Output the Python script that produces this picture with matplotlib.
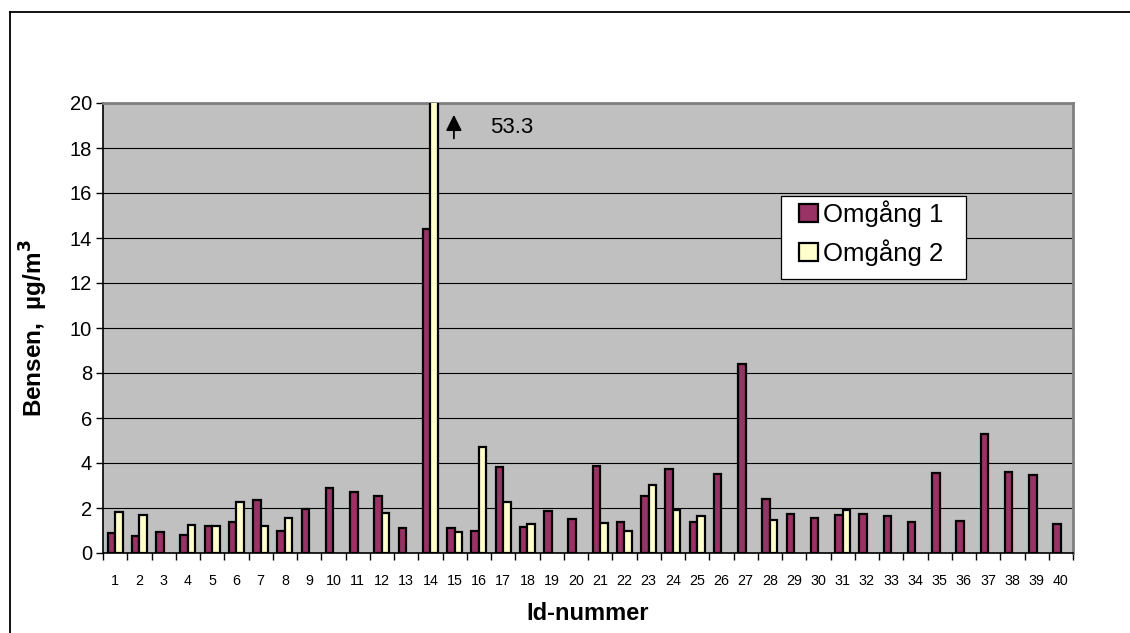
import numpy as np
import matplotlib
matplotlib.use("Agg")
import matplotlib.pyplot as plt
from matplotlib.lines import Line2D
from matplotlib.patches import Rectangle

plt.rcParams['font.family'] = ['Liberation Sans', 'DejaVu Sans']

# Benzene per site, two sampling rounds (µg/m3); NaN = no sample
ids = list(range(1, 41))
omgang1 = [0.89, 0.74, 0.93, 0.81, 1.19, 1.39, 2.37, 0.96, 1.97, 2.89,
           2.73, 2.52, 1.11, 14.4, 1.11, 0.96, 3.82, 1.14, 1.85, 1.50,
           3.88, 1.39, 2.52, 3.75, 1.38, 3.51, 8.4, 2.41, 1.73, 1.57,
           1.70, 1.75, 1.64, 1.38, 3.56, 1.42, 5.29, 3.59, 3.47, 1.30]
nan = np.nan
omgang2 = [1.82, 1.67, nan, 1.23, 1.20, 2.28, 1.20, 1.56, nan, nan,
           nan, 1.76, nan, 53.3, 0.93, 4.71, 2.27, 1.30, nan, nan,
           1.33, 0.99, 3.02, 1.91, 1.66, nan, nan, 1.45, nan, nan,
           1.90, nan, nan, nan, nan, nan, nan, nan, nan, nan]
series_names = ['Omgång 1', 'Omgång 2']
y_ticks = list(range(0, 21, 2))

W, H = 1130, 633
fig = plt.figure(figsize=(W / 100, H / 100), dpi=100)
fig.patch.set_facecolor('white')

# outer chart frame (top and left edges visible)
fig.add_artist(Line2D([10 / W, 10 / W], [0, 1 - 12 / H], color='black', lw=1.3, transform=fig.transFigure))
fig.add_artist(Line2D([10 / W, 1.0], [1 - 12 / H, 1 - 12 / H], color='black', lw=1.3, transform=fig.transFigure))

ax = fig.add_axes([103 / W, (H - 553) / H, 970 / W, 450 / H])
ax.set_facecolor('#C0C0C0')

x = np.array(ids, dtype=float)
w = 0.31
ax.bar(x - w / 2, omgang1, width=w, color='#993366', edgecolor='black', linewidth=1.6, zorder=3, label=series_names[0])
ax.bar(x + w / 2, omgang2, width=w, color='#FFFFCC', edgecolor='black', linewidth=1.6, zorder=3, label=series_names[1])

ax.set_xlim(0.5, 40.5)
ax.set_ylim(0, 20)
ax.set_yticks(y_ticks)
ax.yaxis.grid(True, color='black', linewidth=0.8, zorder=1)
ax.set_axisbelow(True)

ax.set_xticks(ids)
ax.set_xticklabels([str(i) for i in ids], fontsize=10.3)
ax.set_xticks(np.arange(0.5, 41, 1), minor=True)
ax.tick_params(axis='x', which='major', length=0, pad=15)
ax.tick_params(axis='x', which='minor', length=5, width=1, direction='out')
ax.tick_params(axis='y', length=5, width=1, direction='out', labelsize=14.5, pad=3)

for s in ['left', 'bottom']:
    ax.spines[s].set_color('black')
    ax.spines[s].set_linewidth(1.2)
for s in ['top', 'right']:
    ax.spines[s].set_color('#808080')
    ax.spines[s].set_linewidth(2)

# off-scale value for site 14, round 2
ax.annotate('', xy=(14.97, 19.6), xytext=(14.97, 18.3),
            arrowprops=dict(arrowstyle='-|>,head_length=0.6,head_width=0.3', color='black',
                            lw=1.3, mutation_scale=16), zorder=5)
ax.text(16.46, 18.93, f'{omgang2[13]:.1f}', fontsize=16, va='center', ha='left', zorder=5)

ax.set_xlabel('Id-nummer', fontsize=17, fontweight='bold', labelpad=10)
ax.set_ylabel(r'Bensen,  µg/m$^{\mathbf{3}}$', fontsize=17.5, fontweight='bold', labelpad=14)

# legend box
fig.add_artist(Rectangle((781 / W, 1 - 279 / H), 185 / W, 83 / H, transform=fig.transFigure,
                         facecolor='white', edgecolor='black', linewidth=0.9, zorder=4))
leg = fig.legend(loc='upper left', bbox_to_anchor=(799 / W, 1 - 200 / H), fontsize=18.5,
                 frameon=False, handlelength=0.72, handleheight=0.72, handletextpad=0.2,
                 borderpad=0, labelspacing=0.5, borderaxespad=0)
leg.set_zorder(5)

fig.savefig('out.png', dpi=100)
